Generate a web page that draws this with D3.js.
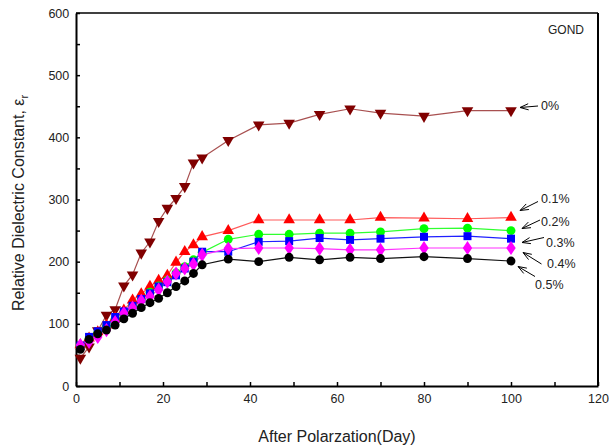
<!DOCTYPE html>
<html><head><meta charset="utf-8">
<script src="https://cdn.jsdelivr.net/npm/d3@7"></script>
<style>body{margin:0;background:#fff}svg{display:block;font-family:"Liberation Sans",Arial,sans-serif}</style>
</head><body><svg id="c" width="609" height="447"></svg>
<script>
const days = [1,3,5,7,9,11,13,15,17,19,21,23,25,27,29,35,42,49,56,63,70,80,90,100];
const s0  = [45,63,89,114,123,161,179,214,232,265,286,302,321,359,367,395,420,423,437,446,439,434,443,443];
const s01 = [66,77,87,98,110,122,138,148,160,170,178,199,216,227,240,250,267,267,267,267,271,270,269,271];
const s02 = [65,76,86,96,108,118,128,139,151,161,170,182,192,203,215,236,244,244,246,246,248,253,254,250];
const s03 = [65,79,88,98,111,120,129,140,149,160,167,178,189,200,216,216,232,233,238,235,237,240,241,237];
const s04 = [66,71,79,90,103,117,126,137,144,155,168,181,189,196,211,221,222,222,221,219,219,222,222,222];
const s05 = [59,75,84,90,98,108,117,126,134,141,150,160,169,181,195,204,200,207,203,207,205,208,205,201];
const seriesNames = ["0%","0.1%","0.2%","0.3%","0.4%","0.5%"];
const xTicks = [0,20,40,60,80,100,120];
const yTicks = [0,100,200,300,400,500,600];

const svg = d3.select("#c");
const x = d3.scaleLinear().domain([0,120]).range([76,598]);
const y = d3.scaleLinear().domain([0,600]).range([386,13]);

const series = [
  {name:"0%",  vals:s0,  line:"#a85050", fill:"#800000", sym:"tdown"},
  {name:"0.1%",vals:s01, line:"#ff5a5a", fill:"#ff0000", sym:"tup"},
  {name:"0.2%",vals:s02, line:"#30ff30", fill:"#00ff00", sym:"circle"},
  {name:"0.3%",vals:s03, line:"#2020ff", fill:"#0000ff", sym:"square"},
  {name:"0.4%",vals:s04, line:"#ff30ff", fill:"#ff00ff", sym:"diamond"},
  {name:"0.5%",vals:s05, line:"#111111", fill:"#000000", sym:"circle"}
];

// axes (inward ticks)
const xAxis = d3.axisBottom(x).tickValues(d3.range(0,121,10)).tickSize(-4).tickSizeOuter(0)
  .tickFormat(d => xTicks.includes(d) ? d : "");
const gx = svg.append("g").attr("transform","translate(0,386)").call(xAxis);
gx.select(".domain").attr("stroke","#000").attr("stroke-width",2);
gx.selectAll(".tick line").attr("stroke","#000").attr("stroke-width",1.5);
gx.selectAll(".tick text").attr("fill","#222").attr("font-size",12.5).attr("dy","1.1em");

const yAxis = d3.axisLeft(y).tickValues(d3.range(0,601,50)).tickSize(-4).tickSizeOuter(0)
  .tickFormat(d => yTicks.includes(d) ? d : "");
const gy = svg.append("g").attr("transform","translate(76,0)").call(yAxis);
gy.select(".domain").attr("stroke","#000").attr("stroke-width",2);
gy.selectAll(".tick line").attr("stroke","#000").attr("stroke-width",1.5);
gy.selectAll(".tick text").attr("fill","#222").attr("font-size",12.5).attr("dx","-0.3em");

// box top/right
svg.append("line").attr("x1",x(0)).attr("x2",x(120)).attr("y1",y(600)).attr("y2",y(600)).attr("stroke","#000").attr("stroke-width",1.5);
svg.append("line").attr("x1",x(120)).attr("x2",x(120)).attr("y1",y(600)).attr("y2",y(0)).attr("stroke","#000").attr("stroke-width",2);

const line = d3.line().x((d,i)=>x(days[i])).y(d=>y(d));
const symMap = {tdown:d3.symbolTriangle, tup:d3.symbolTriangle, circle:d3.symbolCircle, square:d3.symbolSquare, diamond:d3.symbolDiamond};
const sizeMap = {tdown:58, tup:58, circle:62, square:64, diamond:58};

series.forEach(s => {
  svg.append("path").datum(s.vals).attr("d",line).attr("fill","none").attr("stroke",s.line).attr("stroke-width",1.2);
});
series.forEach(s => {
  const sym = d3.symbol().type(symMap[s.sym]).size(sizeMap[s.sym]);
  svg.append("g").selectAll("path").data(s.vals).join("path")
    .attr("d",sym)
    .attr("transform",(d,i)=>`translate(${x(days[i])},${y(d)})` + (s.sym==="tdown"?" rotate(180)":"") + (s.sym==="diamond"?" scale(1.15,1)":""))
    .attr("fill",s.fill);
});

// annotations
const labelPos = [
  {t:"0%",   tx:541, ty:106, ax1:538, ay1:106, ax2:520, ay2:107.5},
  {t:"0.1%", tx:541, ty:199, ax1:538, ay1:201.5, ax2:520, ay2:210.5},
  {t:"0.2%", tx:541, ty:222, ax1:540, ay1:220, ax2:522, ay2:228.5},
  {t:"0.3%", tx:546, ty:243, ax1:544, ay1:237.5, ax2:522, ay2:242.5},
  {t:"0.4%", tx:547, ty:264, ax1:541.5, ay1:264, ax2:523, ay2:252.5},
  {t:"0.5%", tx:535, ty:285, ax1:535, ay1:276.5, ax2:518, ay2:266.5}
];
labelPos.forEach(l => {
  svg.append("text").attr("x",l.tx).attr("y",l.ty).attr("dy","0.35em").attr("font-size",12.5).attr("fill","#222").text(l.t);
  svg.append("line").attr("x1",l.ax1).attr("y1",l.ay1).attr("x2",l.ax2).attr("y2",l.ay2).attr("stroke","#000").attr("stroke-width",1);
  const ang = Math.atan2(l.ay1-l.ay2, l.ax1-l.ax2);
  const len = 9, spread = 0.35;
  [spread,-spread].forEach(a=>{
    svg.append("line").attr("x1",l.ax2).attr("y1",l.ay2)
      .attr("x2",l.ax2+len*Math.cos(ang+a)).attr("y2",l.ay2+len*Math.sin(ang+a))
      .attr("stroke","#000").attr("stroke-width",1);
  });
});

svg.append("text").attr("x",548).attr("y",34).attr("font-size",12).attr("fill","#222").text("GOND");

svg.append("text").attr("x",337).attr("y",442).attr("text-anchor","middle").attr("font-size",16).attr("fill","#222").text("After Polarzation(Day)");
const yt = svg.append("text").attr("transform","translate(24,203) rotate(-90)").attr("text-anchor","middle").attr("font-size",16).attr("fill","#222");
yt.append("tspan").text("Relative Dielectric Constant, ε");
yt.append("tspan").attr("font-size",11).attr("dy",4).text("r");
</script></body></html>
